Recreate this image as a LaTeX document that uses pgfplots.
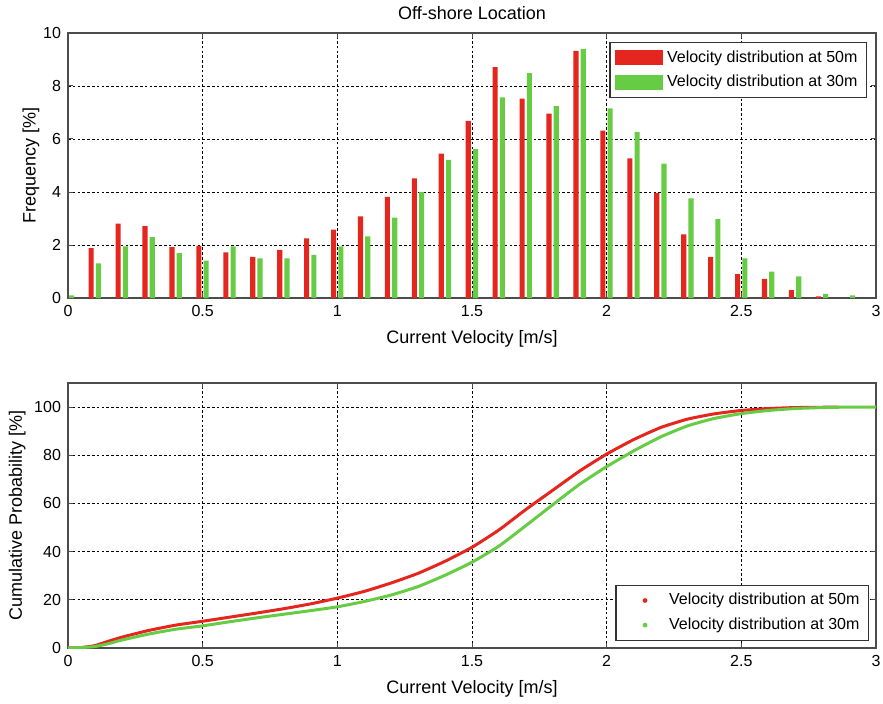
\documentclass[border=0pt]{standalone}
\usepackage{fontspec}
\setmainfont{Liberation Sans}
\usepackage{pgfplots}
\pgfplotsset{compat=1.18}

\definecolor{mred}{RGB}{228,38,30}
\definecolor{mgreen}{RGB}{102,204,68}

\pgfplotsset{
  mstyle/.style={
    scale only axis, width=404pt, height=132.5pt,
    xmin=0, xmax=3, xtick={0,0.5,1,1.5,2,2.5,3},
    grid=major,
    major grid style={black, line width=0.45pt, dash pattern=on 1.3pt off 1.1pt},
    axis line style={black!70, line width=0.6pt},
    tick align=inside, major tick length=2.5pt,
    tick style={black!70, line width=0.5pt},
    ticklabel style={font=\fontsize{8}{9}\selectfont},
    label style={font=\fontsize{9}{10}\selectfont},
    /pgf/number format/assume math mode=true,
    xlabel={Current Velocity [m/s]},
    legend cell align=left,
    legend style={font=\fontsize{8}{9}\selectfont, draw=black!80,
      line width=0.6pt, inner xsep=2.5pt, inner ysep=2pt, row sep=1pt},
  },
  barleg/.style={legend image code/.code={\fill[##1] (0pt,-3.8pt) rectangle (24pt,3.8pt);}},
  dotleg/.style={legend image code/.code={%
    \path[draw=none, fill=none] (0pt,0pt) -- (22pt,0pt);
    \fill[##1, draw=none] (12pt,0pt) circle (1.2pt);}},
}

\begin{document}
\begin{tikzpicture}
\path[use as bounding box] (-34pt,-27.5pt) rectangle (407.5pt,324pt);

% frequency histogram
\begin{axis}[mstyle, at={(0,175pt)},
  ymin=0, ymax=10, ytick={0,2,4,6,8,10},
  ylabel={Frequency [\%]},
  ylabel style={yshift=-5pt},
  title={Off-shore Location},
  title style={font=\fontsize{9}{10}\selectfont, yshift=-3pt},
  legend style={at={(1,1)}, anchor=north east, xshift=-4.5pt, yshift=-4.5pt},
]
\addplot[ybar, bar width=0.019, bar shift=-0.014, fill=mred, draw=none, barleg]
  coordinates {
  (0.1,1.88)(0.2,2.81)(0.3,2.71)(0.4,1.92)(0.5,1.97)(0.6,1.72)(0.7,1.55)
  (0.8,1.82)(0.9,2.25)(1.0,2.58)(1.1,3.08)(1.2,3.82)(1.3,4.51)(1.4,5.45)
  (1.5,6.68)(1.6,8.71)(1.7,7.52)(1.8,6.96)(1.9,9.33)(2.0,6.32)(2.1,5.27)
  (2.2,3.96)(2.3,2.40)(2.4,1.55)(2.5,0.90)(2.6,0.72)(2.7,0.30)(2.8,0.06)
  };
\addlegendentry{Velocity distribution at 50m}
\addplot[ybar, bar width=0.019, bar shift=0.013, fill=mgreen, draw=none, barleg]
  coordinates {
  (0.0,0.10)(0.1,1.31)(0.2,1.95)(0.3,2.30)(0.4,1.69)(0.5,1.41)(0.6,1.95)(0.7,1.50)
  (0.8,1.50)(0.9,1.63)(1.0,1.95)(1.1,2.33)(1.2,3.03)(1.3,4.00)(1.4,5.21)
  (1.5,5.62)(1.6,7.57)(1.7,8.49)(1.8,7.24)(1.9,9.40)(2.0,7.16)(2.1,6.27)
  (2.2,5.07)(2.3,3.76)(2.4,2.98)(2.5,1.50)(2.6,1.00)(2.7,0.82)(2.8,0.16)(2.9,0.10)
  };
\addlegendentry{Velocity distribution at 30m}
\end{axis}

% cumulative probability
\begin{axis}[mstyle, at={(0,0)},
  ymin=0, ymax=110, ytick={0,20,40,60,80,100},
  ylabel={Cumulative Probability [\%]},
  ylabel style={yshift=-2.5pt},
  legend style={at={(1,0)}, anchor=south east, xshift=-3.5pt, yshift=3.5pt},
]
\addplot[mred, line width=1.5pt, smooth, tension=0.3, dotleg] coordinates {
  (0,0)(0.05,0.2)(0.1,1.0)(0.15,2.8)(0.2,4.5)(0.3,7.3)(0.4,9.5)(0.5,11.1)
  (0.6,12.8)(0.7,14.5)(0.8,16.3)(0.9,18.3)(1.0,20.7)(1.1,23.5)(1.2,27.0)
  (1.3,31.0)(1.4,36.0)(1.5,41.8)(1.6,49.0)(1.7,57.5)(1.8,65.5)(1.9,73.5)
  (2.0,80.5)(2.1,86.5)(2.2,91.5)(2.3,95.0)(2.4,97.2)(2.5,98.6)(2.6,99.4)
  (2.7,99.8)(2.86,100)
  };
\addlegendentry{Velocity distribution at 50m}
\addplot[mgreen, line width=1.5pt, smooth, tension=0.3, dotleg] coordinates {
  (0,0)(0.05,0.2)(0.1,0.6)(0.15,1.8)(0.2,3.3)(0.3,5.8)(0.4,7.8)(0.5,9.2)
  (0.6,10.9)(0.7,12.5)(0.8,14.0)(0.9,15.5)(1.0,17.1)(1.1,19.3)(1.2,22.0)
  (1.3,25.5)(1.4,30.2)(1.5,35.6)(1.6,42.3)(1.7,50.8)(1.8,59.5)(1.9,68.0)
  (2.0,75.3)(2.1,81.8)(2.2,87.6)(2.3,92.2)(2.4,95.3)(2.5,97.3)(2.6,98.6)
  (2.7,99.4)(2.8,99.8)(2.9,100)(3.0,100)
  };
\addlegendentry{Velocity distribution at 30m}
\end{axis}
\end{tikzpicture}
\end{document}
